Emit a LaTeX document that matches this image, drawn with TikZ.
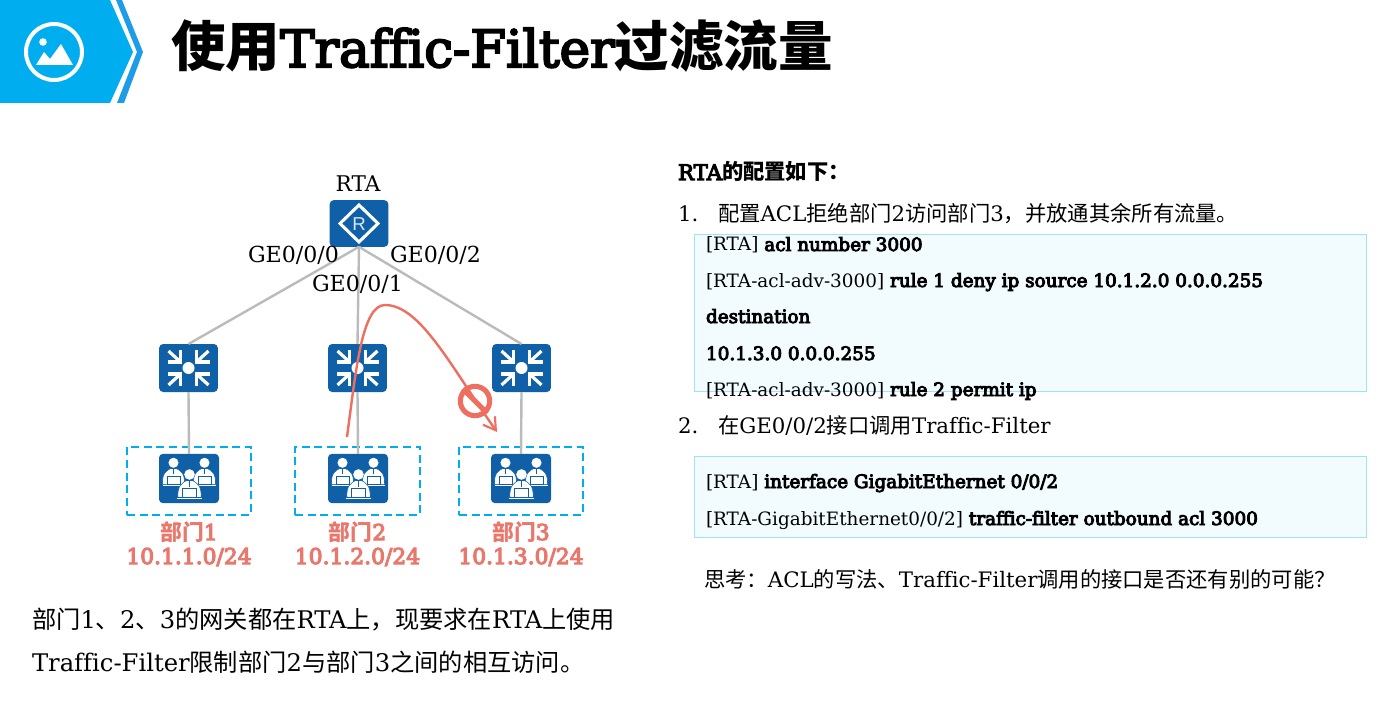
\documentclass[tikz,border=0pt]{standalone}
\usepackage{fontspec}
\setmainfont{DejaVu Serif}[Ligatures=NoCommon]
\newfontfamily\zhf{Noto Sans CJK SC}
\newfontfamily\rf{Liberation Sans}
\newfontfamily\fb[FakeBold=5,Ligatures=NoCommon]{DejaVu Serif}
\newfontfamily\fbt[FakeBold=4,Ligatures=NoCommon]{DejaVu Serif}
\newcommand\zh[1]{{\zhf #1}}
\newcommand\zhb[1]{{\zhf\bfseries #1}}
\newcommand\tb[1]{{\fb #1}}
\newcommand\fpx[1]{\fontsize{\fpeval{#1*0.75}}{\fpeval{#1*0.9}}\selectfont}
\usetikzlibrary{arrows.meta}
\definecolor{hdr}{HTML}{00AEEF}
\definecolor{hdrb}{HTML}{1E9CE8}
\definecolor{dev}{HTML}{1060A8}
\definecolor{lnk}{HTML}{BBBBBB}
\definecolor{redd}{HTML}{EE6F60}
\definecolor{lbl}{HTML}{E9776B}
\definecolor{cfill}{HTML}{F2FBFE}
\definecolor{cline}{HTML}{9FE3F5}
\tikzset{
 x=0.75pt,y=-0.75pt,
 devbox/.style={fill=dev,rounded corners=3pt,inner sep=0,outer sep=0,minimum width=44pt,minimum height=36pt},
 linkline/.style={draw=lnk,line width=1.8pt},
 txt/.style={inner sep=0,outer sep=0,anchor=base west,font=\fpx{18.4}},
 clbl/.style={inner sep=0,outer sep=0,anchor=base,font=\fpx{21.8}\fb,text=lbl},
 codebox/.style={draw=cline,fill=cfill,line width=0.75pt},
 dashbox/.style={draw=hdr,line width=1.5pt,dash pattern=on 6pt off 3.5pt},
 pics/swicon/.style={code={
  \fill[white] (0,0) circle (6);
  \begin{scope}[draw=white,line width=2.4pt]
   \foreach \sx/\sy in {1/1,1/-1,-1/1,-1/-1}{
    \draw[miter limit=10] (\sx*8,\sy*18)--(\sx*8,\sy*6)--(\sx*21,\sy*6);
    \draw (\sx*9,\sy*7)--(\sx*20,\sy*17);
   }
  \end{scope}
 }},
 pics/person/.style={code={
  \fill[white] (0,-#1*6) circle (#1*5.3);
  \fill[white,draw=dev,line width=.4pt] (-#1*11.5,#1*17) .. controls (-#1*12.5,#1*5) and (-#1*7,#1*2) .. (-#1*3,0) -- (#1*3,0) .. controls (#1*7,#1*2) and (#1*12.5,#1*5) .. (#1*11.5,#1*17) -- cycle;
  \draw[dev,line width=.4pt] (0,0)--(0,#1*6);
  \fill[white,draw=dev,line width=.4pt] (-#1*7,#1*8) rectangle (#1*7,#1*17);
 }},
 pics/grpicon/.style={code={
  \pic at (-15.5,-10) {person=0.95};
  \pic at (15.5,-10) {person=0.95};
  \fill[white] (-26,6) rectangle (-6,7);
  \fill[white] (6,6) rectangle (27,7);
  \pic at (0.5,2) {person=1};
  \fill[white] (-12,19) rectangle (13,20.5);
 }},
}
\begin{document}
\begin{tikzpicture}
\useasboundingbox (0,0) rectangle (1384,720);
\fill[white] (0,0) rectangle (1384,720);
% header
\fill[hdr] (0,0)--(110,0)--(133,52)--(110,103)--(0,103)--cycle;
\fill[hdrb] (116,0)--(122,0)--(143,52)--(124,103)--(117,103)--(137,52)--cycle;
\draw[white,line width=3pt] (54,52) circle (28);
\fill[white] (43,42) circle (3.8);
\fill[white] (36,65)--(44,52)--(50,59)--(61,44)--(73,65)--cycle;
\node[inner sep=0,anchor=base west,font=\fpx{54.5}] (title) at (171,67) {\zhb{使用}{\fbt\fpx{51.4}Traffic-Filter}\zhb{过滤流量}};
% dashed boxes
\node[dashbox,minimum width=93pt,minimum height=51pt,inner sep=0] (d1) at (189,480.5) {};
\node[dashbox,minimum width=94pt,minimum height=51pt,inner sep=0] (d2) at (357.5,480.5) {};
\node[dashbox,minimum width=93pt,minimum height=51pt,inner sep=0] (d3) at (521,480.5) {};
% devices
\node[devbox,minimum height=35pt] (rta) at (359,223.5) {};
\node[devbox] (s1) at (188.5,368) {};
\node[devbox] (s2) at (357.5,368) {};
\node[devbox] (s3) at (521.5,368) {};
\node[devbox,minimum width=45pt,minimum height=37pt] (g1) at (189,478.5) {};
\node[devbox,minimum width=45pt,minimum height=37pt] (g2) at (358,478.5) {};
\node[devbox,minimum width=45pt,minimum height=37pt] (g3) at (521,478.5) {};
% links
\draw[linkline] (rta.south)--(s1.north);
\draw[linkline] (rta.south)--(s2.north);
\draw[linkline] (rta.south)--(s3.north);
\draw[linkline] (s1.south)--(g1.north);
\draw[linkline] (s2.south)--(g2.north);
\draw[linkline] (s3.south)--(g3.north);
% icons
\draw[white,line width=2.3pt] (359,205)--(378,223.5)--(359,242)--(340,223.5)--cycle;
\node[inner sep=0,text=white!85!dev,font=\rf\fontsize{14}{14}\selectfont] (rletter) at (359,224) {R};
\pic at (s1.center) {swicon};
\pic at (s2.center) {swicon};
\pic at (s3.center) {swicon};
\pic at (g1.center) {grpicon};
\pic at (g2.center) {grpicon};
\pic at (g3.center) {grpicon};
% labels
\node[inner sep=0,anchor=base,font=\fpx{21.6}] (lrta) at (358,192) {RTA};
\node[txt,font=\fpx{22.1}] (ge0) at (248,262.5) {GE0/0/0};
\node[txt,font=\fpx{22.1}] (ge1) at (312,291.5) {GE0/0/1};
\node[txt,font=\fpx{22.1}] (ge2) at (390,262.5) {GE0/0/2};
\node[clbl] (n1) at (189,540) {\zhb{部门}1};
\node[clbl] (n2) at (357.5,540) {\zhb{部门}2};
\node[clbl] (n3) at (521,540) {\zhb{部门}3};
\node[clbl] (a1) at (189,564) {10.1.1.0/24};
\node[clbl] (a2) at (357.5,564) {10.1.2.0/24};
\node[clbl] (a3) at (521,564) {10.1.3.0/24};
% blocked flow
\coordinate (fa) at (347,437);
\coordinate (fb) at (385,305);
\coordinate (fc) at (497,432);
\draw[redd,line width=1.8pt,-{Straight Barb[length=9pt,width=11pt,line width=1.6pt]}] (fa) .. controls (356,370) and (362,305) .. (fb) .. controls (420,305) and (450,365) .. (fc);
\node[circle,draw=redd,line width=3.8pt,fill=none,minimum size=22pt,inner sep=0] (ban) at (475,401) {};
\draw[redd,line width=3.8pt] (ban.135)--(ban.-45);
% bottom text
\node[txt,font=\fpx{24.25}] (b1) at (32,628) {\zh{部门}1\zh{、}2\zh{、}3\zh{的网关都在}RTA\zh{上，现要求在}RTA\zh{上使用}};
\node[txt,font=\fpx{24.25}] (b2) at (32,671) {Traffic-Filter\zh{限制部门}2\zh{与部门}3\zh{之间的相互访问。}};
% right
\draw[codebox] (694.5,234.5) rectangle (1366.5,391);
\draw[codebox] (694.5,456.5) rectangle (1366.5,537);
\node[txt,font=\fpx{21.3}\fb] (r0) at (678,180) {RTA\zhb{的配置如下：}};
\node[txt,font=\fpx{21.3}] (r1n) at (678,222) {1.};
\node[txt,font=\fpx{21.3}] (r1) at (718,222) {\zh{配置}ACL\zh{拒绝部门}2\zh{访问部门}3\zh{，并放通其余所有流量。}};
\node[txt] (c1) at (706,251) {[RTA] \tb{acl number 3000}};
\node[txt] (c2) at (706,287) {[RTA-acl-adv-3000] \tb{rule 1 deny ip source 10.1.2.0 0.0.0.255}};
\node[txt] (c3) at (706,323) {\tb{destination}};
\node[txt] (c4) at (706,360) {\tb{10.1.3.0 0.0.0.255}};
\node[txt] (c5) at (706,396) {[RTA-acl-adv-3000] \tb{rule 2 permit ip}};
\node[txt,font=\fpx{21.3}] (r2n) at (678,433) {2.};
\node[txt,font=\fpx{21.3}] (r2) at (718,433) {\zh{在}GE0/0/2\zh{接口调用}Traffic-Filter};
\node[txt] (c6) at (706,488) {[RTA] \tb{interface GigabitEthernet 0/0/2}};
\node[txt] (c7) at (706,525) {[RTA-GigabitEthernet0/0/2] \tb{traffic-filter outbound acl 3000}};
\node[txt,font=\fpx{21.3}] (q) at (704,587) {\zh{思考：}ACL\zh{的写法、}Traffic-Filter\zh{调用的接口是否还有别的可能？}};
\end{tikzpicture}
\end{document}
